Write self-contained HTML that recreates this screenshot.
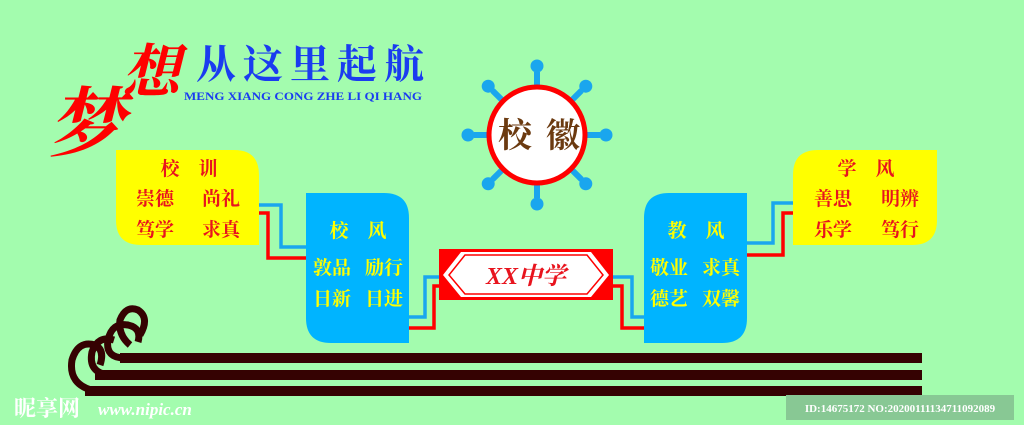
<!DOCTYPE html>
<html><head><meta charset="utf-8"><style>
html,body{margin:0;padding:0;background:#a3fcae;}
svg{display:block}
text{font-family:"Liberation Serif","Noto Serif CJK SC",serif;font-weight:bold}
</style></head><body>
<svg width="1024" height="425" viewBox="0 0 1024 425" xmlns="http://www.w3.org/2000/svg">
<rect width="1024" height="425" fill="#a3fcae"/>
<!-- title -->
<text x="48" y="150" font-size="76" fill="#f00" font-style="italic">梦</text>
<text x="122" y="92" font-size="58" fill="#f00" font-style="italic">想</text>
<text x="196" y="78" font-size="40" fill="#1a3cf0" letter-spacing="7" font-family="Noto Sans CJK SC,sans-serif" font-weight="900">从这里起航</text>
<text x="184" y="100" font-size="12" fill="#1a3cf0" textLength="238" lengthAdjust="spacingAndGlyphs">MENG XIANG CONG ZHE LI QI HANG</text>
<!-- emblem spokes -->
<g stroke="#1aa6ee" stroke-width="6" fill="#1aa6ee">
<g id="sp"><line x1="537" y1="85" x2="537" y2="72"/><circle cx="537" cy="66" r="6.5" stroke="none"/></g>
<use href="#sp" transform="rotate(45 537 135)"/><use href="#sp" transform="rotate(90 537 135)"/><use href="#sp" transform="rotate(135 537 135)"/><use href="#sp" transform="rotate(180 537 135)"/><use href="#sp" transform="rotate(225 537 135)"/><use href="#sp" transform="rotate(270 537 135)"/><use href="#sp" transform="rotate(315 537 135)"/>
</g>
<circle cx="537" cy="135" r="48" fill="#fff" stroke="#f00" stroke-width="5"/>
<text x="515" y="147" font-size="34" fill="#6b3a10" text-anchor="middle">校</text>
<text x="563" y="147" font-size="34" fill="#6b3a10" text-anchor="middle">徽</text>
<!-- connectors -->
<g fill="none" stroke-width="3.5">
<polyline points="259,205 281,205 281,247 306,247" stroke="#1aa6ee"/>
<polyline points="259,213 268,213 268,258 306,258" stroke="#f00"/>
<polyline points="409,317 425,317 425,277 439,277" stroke="#1aa6ee"/>
<polyline points="409,328 434,328 434,286 439,286" stroke="#f00"/>
<polyline points="613,277 632,277 632,317 645,317" stroke="#1aa6ee"/>
<polyline points="613,286 622,286 622,328 645,328" stroke="#f00"/>
<polyline points="747,243 773,243 773,203 793,203" stroke="#1aa6ee"/>
<polyline points="747,255 783,255 783,213 793,213" stroke="#f00"/>
</g>
<!-- left yellow -->
<path d="M116,150 H234 Q259,150 259,175 V245 H141 Q116,245 116,220 Z" fill="#ff0"/>
<g fill="#e8141e" font-size="19" text-anchor="middle">
<text x="170" y="175">校</text><text x="208" y="175">训</text>
<text x="155" y="205">崇德</text><text x="221" y="205">尚礼</text>
<text x="155" y="236">笃学</text><text x="221" y="236">求真</text>
</g>
<!-- left blue -->
<path d="M306,193 H384 Q409,193 409,218 V343 H331 Q306,343 306,318 Z" fill="#00b4ff"/>
<g fill="#ff0" font-size="19" text-anchor="middle">
<text x="339" y="237">校</text><text x="377" y="237">风</text>
<text x="332" y="274">敦品</text><text x="384" y="274">励行</text>
<text x="332" y="305">日新</text><text x="384" y="305">日进</text>
</g>
<!-- banner -->
<rect x="439" y="249" width="174" height="51" fill="#f00"/>
<polygon points="461,252 591,252 609,275 591,297 461,297 443,275" fill="#fff"/>
<polygon points="465,255 587,255 603,275 587,294 465,294 449,275" fill="none" stroke="#f00" stroke-width="1.5"/>
<text x="526" y="284" font-size="24" fill="#e8141e" text-anchor="middle" font-style="italic">XX中学</text>
<!-- right blue -->
<path d="M669,193 H747 V318 Q747,343 722,343 H644 V218 Q644,193 669,193 Z" fill="#00b4ff"/>
<g fill="#ff0" font-size="19" text-anchor="middle">
<text x="677" y="237">教</text><text x="715" y="237">风</text>
<text x="669" y="274">敬业</text><text x="721" y="274">求真</text>
<text x="669" y="305">德艺</text><text x="721" y="305">双馨</text>
</g>
<!-- right yellow -->
<path d="M818,150 H937 V220 Q937,245 912,245 H793 V175 Q793,150 818,150 Z" fill="#ff0"/>
<g fill="#e8141e" font-size="19" text-anchor="middle">
<text x="847" y="175">学</text><text x="885" y="175">风</text>
<text x="833" y="205">善思</text><text x="900" y="205">明辨</text>
<text x="833" y="236">乐学</text><text x="900" y="236">笃行</text>
</g>
<!-- bottom scroll -->
<g fill="#350202">
<rect x="120" y="353" width="802" height="10"/>
<rect x="95" y="370" width="827" height="10"/>
<rect x="85" y="386" width="837" height="10"/>
</g>
<g fill="none" stroke="#350202" stroke-width="7">
<path d="M125,358 Q105,358 108,340 Q112,322 128,325 Q142,328 138,342"/>
<path d="M108,375 Q88,372 92,352 Q98,335 114,340"/>
<path d="M95,391 Q68,385 72,360 Q78,340 95,345 Q105,350 100,365"/>
<path d="M130,345 Q118,335 120,320 Q126,305 138,310 Q150,318 140,335"/>
</g>
<!-- watermarks -->
<text x="14" y="416" font-size="22" fill="#fff" font-family="Liberation Sans,Noto Sans CJK SC,sans-serif">昵享网</text>
<text x="98" y="415" font-size="17" fill="#fff" font-style="italic" font-family="Liberation Sans,sans-serif">www.nipic.cn</text>
<rect x="786" y="395" width="228" height="25" fill="#88c894"/>
<text x="900" y="412" font-size="11" fill="#fff" text-anchor="middle" font-weight="normal" font-family="Liberation Sans,sans-serif">ID:14675172 NO:20200111134711092089</text>
</svg>
</body></html>
